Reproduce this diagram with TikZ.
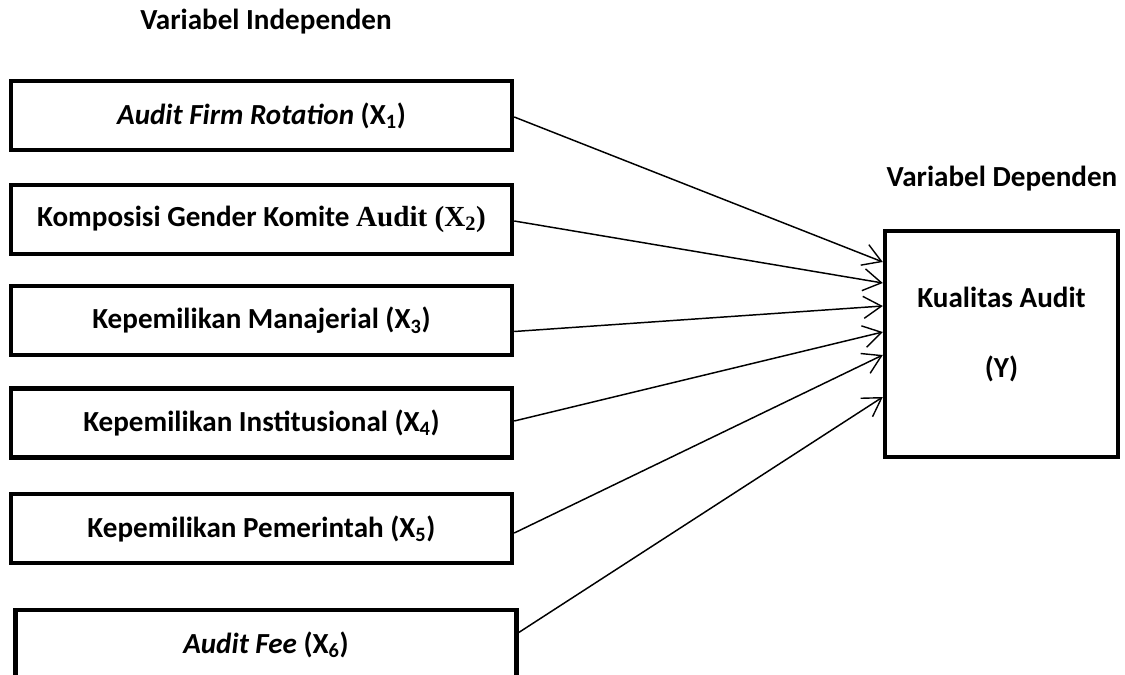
\documentclass[tikz,border=0pt]{standalone}
\usepackage{fontspec}
\setmainfont{Carlito}
\newfontfamily\timesfont{Liberation Serif}
\usepackage{tikz}
\usetikzlibrary{arrows.meta,calc}
\tikzset{
  var box/.style={draw, line width=3.1pt, minimum width=12.525cm, minimum height=1.725cm, inner sep=0pt, font=\fontsize{20.7}{25}\selectfont\bfseries},
  var edge/.style={-{Straight Barb[length=4.5mm, width=5.5mm, line width=1pt]}, line width=1.05pt},
  var title/.style={font=\fontsize{20.7}{25}\selectfont\bfseries},
}

\begin{document}
\begin{tikzpicture}[x=0.025cm, y=-0.025cm]
  \useasboundingbox (0,0) rectangle (1125,675);
  \node[var title] (ti) at (266,22) {Variabel Independen};
  \node[var title] (td) at (1002,179) {Variabel Dependen};
  \node[var box] (x1) at (261.5,115.5) {\textit{Audit Firm Rotation} (X\textsubscript{1})};
  \node[var box] (x2) at (261.5,219.5) {Komposisi Gender Komite {\timesfont Audit (X\textsubscript{2})}};
  \node[var box] (x3) at (261.5,320.5) {Kepemilikan Manajerial (X\textsubscript{3})};
  \node[var box] (x4) at (261.5,423) {Kepemilikan Institusional (X\textsubscript{4})};
  \node[var box] (x5) at (261.5,528.5) {Kepemilikan Pemerintah (X\textsubscript{5})};
  \node[var box] (x6) at (266,644.5) {\textit{Audit Fee} (X\textsubscript{6})};
  \node[var box, minimum width=5.825cm, minimum height=5.65cm, align=center] (y) at (1001.5,344) {Kualitas Audit\\[25pt](Y)\\[-8pt]};
  \draw[var edge] ($(x1.east)+(0,1.5)$) -- ($(y.west)+(0,-82)$); \draw[var edge] ($(x2.east)+(0,1.5)$) -- ($(y.west)+(0,-61)$); \draw[var edge] ($(x3.east)+(0,11)$) -- ($(y.west)+(0,-38)$);
  \draw[var edge] ($(x4.east)+(0,-2)$) -- ($(y.west)+(0,-12)$); \draw[var edge] ($(x5.east)+(0,4.5)$) -- ($(y.west)+(0,11)$); \draw[var edge] ($(x6.east)+(0,-12)$) -- ($(y.west)+(0,53)$);
\end{tikzpicture}
\end{document}
